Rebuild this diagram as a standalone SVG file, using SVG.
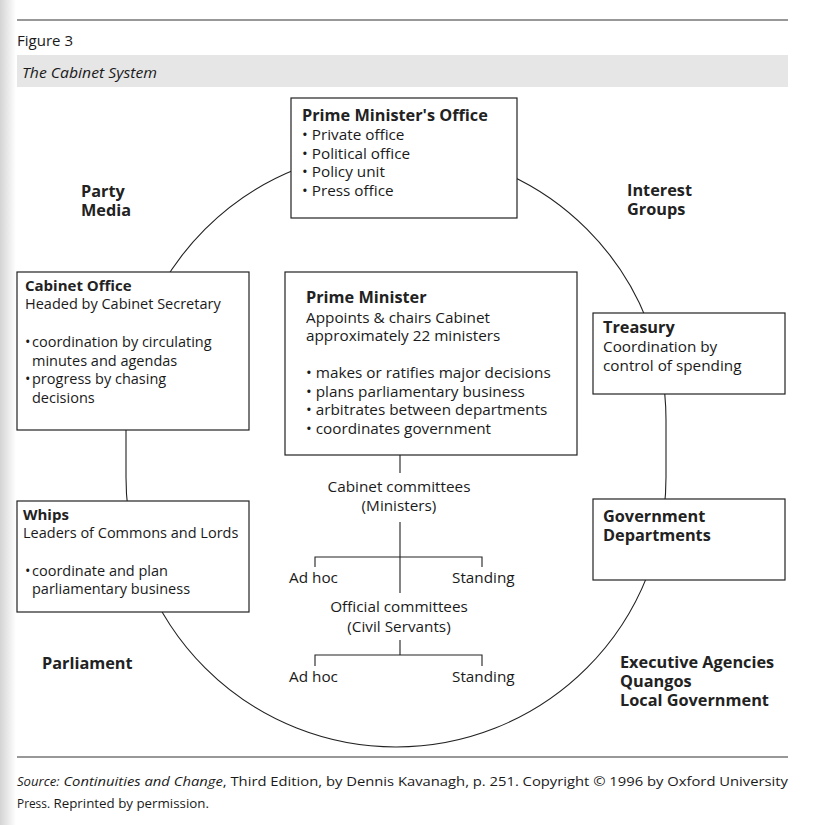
<svg xmlns="http://www.w3.org/2000/svg" width="815" height="825" viewBox="0 0 815 825">
<defs>
<linearGradient id="shade" x1="0" y1="0" x2="1" y2="0">
<stop offset="0" stop-color="#d4d4d4"/>
<stop offset="1" stop-color="#ffffff"/>
</linearGradient>
</defs>
<style>
text{font-family:"Open Sans","Noto Sans","DejaVu Sans",sans-serif;fill:#1a1a1a;}
.t{font-size:15.3px;}
.s{font-size:14.5px;}
.b{font-size:16.3px;font-weight:700;fill:#222;}
.bs{font-size:15px;font-weight:700;fill:#222;}
.box{fill:#fff;stroke:#222;stroke-width:1.2;}
.ln{fill:none;stroke:#222;stroke-width:1.1;}
.rule{stroke:#333;stroke-width:1.2;}
.mid{text-anchor:middle;}
.f{font-size:13.5px;}
</style>
<rect x="0" y="0" width="815" height="825" fill="#fff"/>
<rect x="0" y="0" width="16" height="825" fill="url(#shade)"/>
<g id="header">
<line class="rule" x1="17" y1="20" x2="788" y2="20"/>
<text x="17" y="46" style="font-size:14px;font-weight:400" textLength="56" lengthAdjust="spacingAndGlyphs">Figure 3</text>
<rect x="17" y="55" width="771" height="32" fill="#e6e6e6"/>
<text x="22" y="78" style="font-size:15px;font-style:italic" textLength="135" lengthAdjust="spacingAndGlyphs">The Cabinet System</text>
</g>
<g id="connectors">
<path class="ln" d="M126,420 A270,270 0 0 1 666,420 L666,477 A270,270 0 0 1 126,477 Z"/>
<path class="ln" d="M400,455 V473 M400,522 V593 M315,567 V557 H482 V567 M400,640 V655 M315,666 V655 H482 V666"/>
</g>
<g id="pm-office">
<rect class="box" x="291" y="98" width="226" height="120"/>
<text class="b" x="302" y="121">Prime Minister's Office</text>
<text class="t" x="302" y="140">•  Private office</text>
<text class="t" x="302" y="159">•  Political office</text>
<text class="t" x="302" y="177">•  Policy unit</text>
<text class="t" x="302" y="196">•  Press office</text>
</g>
<g id="cabinet-office">
<rect class="box" x="17" y="272" width="232" height="158"/>
<text class="bs" x="25" y="291">Cabinet Office</text>
<text class="s" x="25" y="309">Headed by Cabinet Secretary</text>
<text class="s" x="25" y="347">•</text>
<text class="s" x="32" y="347">coordination by circulating</text>
<text class="s" x="32" y="366">minutes and agendas</text>
<text class="s" x="25" y="384">•</text>
<text class="s" x="32" y="384">progress by chasing</text>
<text class="s" x="32" y="403">decisions</text>
</g>
<g id="prime-minister">
<rect class="box" x="285" y="272" width="292" height="183"/>
<text class="b" x="306" y="303">Prime Minister</text>
<text class="t" x="306" y="323">Appoints &amp; chairs Cabinet</text>
<text class="t" x="306" y="341">approximately 22 ministers</text>
<text class="t" x="306" y="378">•  makes or ratifies major decisions</text>
<text class="t" x="306" y="397">•  plans parliamentary business</text>
<text class="t" x="306" y="415">•  arbitrates between departments</text>
<text class="t" x="306" y="434">•  coordinates government</text>
</g>
<g id="treasury">
<rect class="box" x="593" y="313" width="192" height="81"/>
<text class="b" x="603" y="333">Treasury</text>
<text class="t" x="603" y="352">Coordination by</text>
<text class="t" x="603" y="371">control of spending</text>
</g>
<g id="whips">
<rect class="box" x="17" y="501" width="232" height="111"/>
<text class="bs" x="23" y="520">Whips</text>
<text class="s" x="23" y="538">Leaders of Commons and Lords</text>
<text class="s" x="25" y="576">•</text>
<text class="s" x="32" y="576">coordinate and plan</text>
<text class="s" x="32" y="594">parliamentary business</text>
</g>
<g id="gov-departments">
<rect class="box" x="593" y="499" width="192" height="81"/>
<text class="b" x="603" y="522">Government</text>
<text class="b" x="603" y="541">Departments</text>
</g>
<g id="party-media">
<text class="b" x="81" y="197">Party</text>
<text class="b" x="81" y="216">Media</text>
</g>
<g id="interest-groups">
<text class="b" x="627" y="196">Interest</text>
<text class="b" x="627" y="215">Groups</text>
</g>
<g id="parliament">
<text class="b" x="42" y="669">Parliament</text>
</g>
<g id="agencies">
<text class="b" x="620" y="668">Executive Agencies</text>
<text class="b" x="620" y="687">Quangos</text>
<text class="b" x="620" y="706">Local Government</text>
</g>
<g id="cabinet-committees">
<text class="t mid" x="399" y="492">Cabinet committees</text>
<text class="t mid" x="399" y="511">(Ministers)</text>
<text class="t" x="289" y="583">Ad hoc</text>
<text class="t" x="452" y="583">Standing</text>
</g>
<g id="official-committees">
<text class="t mid" x="399" y="612">Official committees</text>
<text class="t mid" x="399" y="632">(Civil Servants)</text>
<text class="t" x="289" y="682">Ad hoc</text>
<text class="t" x="452" y="682">Standing</text>
</g>
<g id="footer">
<line class="rule" x1="17" y1="757" x2="788" y2="757"/>
<text class="f" x="17" y="786" textLength="771" lengthAdjust="spacingAndGlyphs"><tspan style="font-style:italic;font-size:12px">Source:</tspan> <tspan style="font-style:italic">Continuities and Change</tspan>, Third Edition, by Dennis Kavanagh, p. 251. Copyright © 1996 by Oxford University</text>
<text class="f" x="17" y="808" textLength="192" lengthAdjust="spacingAndGlyphs"><tspan style="font-size:12px">Press.</tspan> Reprinted by permission.</text>
</g>
</svg>
